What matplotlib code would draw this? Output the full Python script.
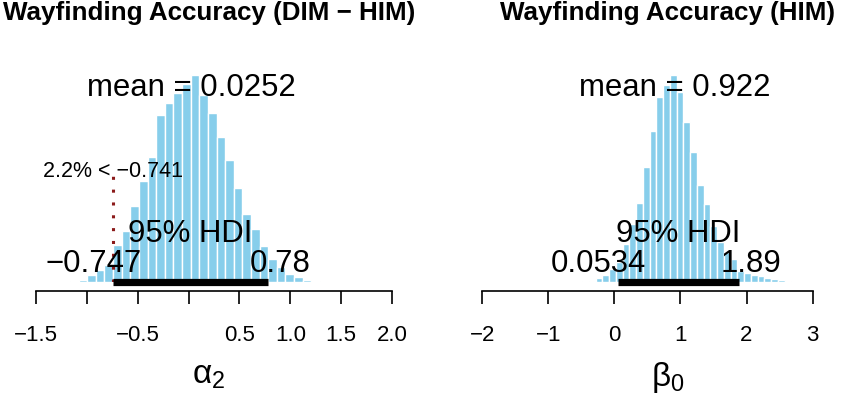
import matplotlib
matplotlib.use("Agg")
import matplotlib.pyplot as plt
import numpy as np

plt.rcParams['font.family'] = ['Liberation Sans', 'DejaVu Sans']
plt.rcParams['mathtext.fontset'] = 'custom'
plt.rcParams['mathtext.rm'] = 'Liberation Sans'
plt.rcParams['mathtext.it'] = 'Liberation Sans:italic'
plt.rcParams['mathtext.default'] = 'regular'

# ---------------- data ----------------
# Left panel: alpha_2 (DIM - HIM)
alpha2_title = "Wayfinding Accuracy (DIM \u2212 HIM)"
alpha2_label = r"$\alpha_2$"
alpha2_mean = 0.0252
alpha2_hdi = [-0.747, 0.78]
alpha2_comp = -0.741
alpha2_pct_below = 2.2
alpha2_bin_start = -1.253
alpha2_heights = [0.5, 1, 2, 7, 12, 17, 37, 51, 76, 101, 125, 167, 179, 189, 198,
                  207, 187, 169, 145, 122, 94, 68, 53, 36, 23, 15, 8, 5, 2, 1]
alpha2_ticks = [-1.5, -1.0, -0.5, 0.0, 0.5, 1.0, 1.5, 2.0]
alpha2_ticklabels = ["\u22121.5", "", "\u22120.5", "", "0.5", "1.0", "1.5", "2.0"]

# Right panel: beta_0 (HIM)
beta0_title = "Wayfinding Accuracy (HIM)"
beta0_label = r"$\beta_0$"
beta0_mean = 0.922
beta0_hdi = [0.0534, 1.89]
beta0_bin_start = -0.587
beta0_heights = [0.5, 1, 1.5, 4, 7, 13, 20, 38, 58, 79, 115, 151, 185, 197, 207,
                 190, 160, 130, 97, 78, 56, 40, 30, 23, 11, 9, 7, 6, 4, 3, 2, 1]
beta0_ticks = [-2, -1, 0, 1, 2, 3]
beta0_ticklabels = ["\u22122", "\u22121", "0", "1", "2", "3"]

BAR_COLOR = "#87CEEB"
W, H, DPI = 850, 394, 100

fig = plt.figure(figsize=(W / DPI, H / DPI), dpi=DPI)


def fmt(v):
    s = f"{v:g}"
    return s.replace("-", "\u2212")


def panel(rect, xlim, title, xlabel, heights, bin_start, hdi, mean, ticks, ticklabels,
          comp=None, pct=None):
    ax = fig.add_axes(rect)
    width = (hdi[1] - hdi[0]) / 18.0
    n = len(heights)
    edges = bin_start + width * np.arange(n + 1)
    ax.bar(edges[:-1], heights, width=width, align='edge', color=BAR_COLOR,
           edgecolor='white', linewidth=1.0, zorder=1)
    ax.set_xticks(ticks)
    ax.set_xticklabels(ticklabels)
    ax.set_xlim(*xlim)
    ax.set_ylim(0, 222)
    hmax = max(heights)
    # HDI bar
    ax.plot(hdi, [0, 0], color='black', lw=5.2, solid_capstyle='butt', zorder=3,
            clip_on=False)
    fs = 22.4
    ax.text(mean, 0.9 * hmax, f"mean = {fmt(mean)}", ha='center', va='baseline',
            fontsize=fs, zorder=4)
    ax.annotate("95% HDI", xy=(np.mean(hdi), 0), xytext=(0, 29), textcoords='offset points',
                ha='center', va='baseline', fontsize=fs, zorder=4)
    for val, frac in [(hdi[0], 0.7), (hdi[1], 0.3)]:
        t = ax.annotate(fmt(val), xy=(val, 0), xytext=(0, 7.5), textcoords='offset points',
                        ha='left', va='baseline', fontsize=fs, zorder=4)
        fig.canvas.draw()
        bb = t.get_window_extent()
        t.set_position((-frac * bb.width * 72 / DPI, 7.5))
    if comp is not None:
        ax.plot([comp, comp], [0, 0.53 * hmax], color='#8B1A1A', lw=2.2, ls=(0, (1, 3.2)),
                zorder=2)
        ax.text(comp, 0.505 * hmax, f"{pct:g}% < {fmt(comp)}", ha='center', va='baseline',
                fontsize=15.5, zorder=4)
    for s in ['top', 'right', 'left']:
        ax.spines[s].set_visible(False)
    ax.spines['bottom'].set_position(('outward', 6.3))
    ax.spines['bottom'].set_bounds(ticks[0], ticks[-1])
    ax.spines['bottom'].set_linewidth(1.2)
    ax.set_yticks([])
    ax.tick_params(axis='x', length=9.4, width=1.2, labelsize=16, pad=15.6)
    ax.set_xlabel(xlabel, fontsize=24, labelpad=10)
    ax.set_title(title, fontsize=18.7, fontweight='bold', pad=28.8)
    return ax


panel([26.1 / W, 112 / H, 365.8 / W, 222 / H], (-1.6, 2.0), alpha2_title, alpha2_label,
      alpha2_heights, alpha2_bin_start, alpha2_hdi, alpha2_mean, alpha2_ticks,
      alpha2_ticklabels, comp=alpha2_comp, pct=alpha2_pct_below)
r_lo, r_hi = -2.0, 3.61
panel([482.1 / W, 112 / H, (r_hi - r_lo) * 66.1 / W, 222 / H], (r_lo, r_hi), beta0_title,
      beta0_label, beta0_heights, beta0_bin_start, beta0_hdi, beta0_mean, beta0_ticks,
      beta0_ticklabels)

fig.savefig("out.png", dpi=DPI)
